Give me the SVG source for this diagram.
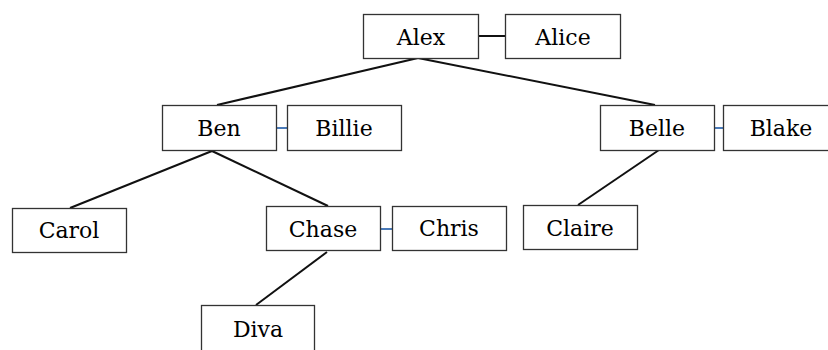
<svg xmlns="http://www.w3.org/2000/svg" width="828" height="350" viewBox="0 0 828 350">
<style>
.box{fill:#fff;stroke:#333;stroke-width:1.3}
.t{font-family:"DejaVu Serif","Liberation Serif",serif;font-size:22px;fill:#000;text-anchor:middle}
.e{stroke:#111;stroke-width:2;fill:none}
.s{stroke:#4a7ab8;stroke-width:2;fill:none}
</style>
<rect width="828" height="350" fill="#fff"/>
<g id="connectors">
<line class="e" x1="418" y1="58" x2="217" y2="105"/>
<line class="e" x1="418" y1="58" x2="655" y2="105"/>
<line class="e" x1="212" y1="151" x2="70" y2="208"/>
<line class="e" x1="212" y1="151" x2="328" y2="206"/>
<line class="e" x1="659" y1="150" x2="578" y2="205"/>
<line class="e" x1="327" y1="252" x2="256" y2="305"/>
<line class="e" x1="478" y1="36" x2="505" y2="36"/>
<line class="s" x1="276" y1="128" x2="287" y2="128"/>
<line class="s" x1="714" y1="128" x2="723" y2="128"/>
<line class="s" x1="380" y1="229" x2="392" y2="229"/>
</g>
<g id="alex"><rect class="box" x="363.5" y="14.5" width="115" height="44"/><text class="t" x="421" y="45">Alex</text></g>
<g id="alice"><rect class="box" x="505.5" y="14.5" width="115" height="44"/><text class="t" x="563" y="45">Alice</text></g>
<g id="ben"><rect class="box" x="162.5" y="105.5" width="114" height="45"/><text class="t" x="219" y="136">Ben</text></g>
<g id="billie"><rect class="box" x="287.5" y="105.5" width="114" height="45"/><text class="t" x="344" y="136">Billie</text></g>
<g id="belle"><rect class="box" x="600.5" y="105.5" width="114" height="45"/><text class="t" x="657" y="136">Belle</text></g>
<g id="blake"><rect class="box" x="723.5" y="105.5" width="115" height="45"/><text class="t" x="781" y="136">Blake</text></g>
<g id="carol"><rect class="box" x="12.5" y="208.5" width="114" height="44"/><text class="t" x="69" y="238">Carol</text></g>
<g id="chase"><rect class="box" x="266.5" y="206.5" width="114" height="44"/><text class="t" x="323" y="237">Chase</text></g>
<g id="chris"><rect class="box" x="392.5" y="206.5" width="114" height="44"/><text class="t" x="449" y="236">Chris</text></g>
<g id="claire"><rect class="box" x="523.5" y="205.5" width="114" height="44"/><text class="t" x="580" y="236">Claire</text></g>
<g id="diva"><rect class="box" x="201.5" y="305.5" width="113" height="50"/><text class="t" x="258" y="337">Diva</text></g>
</svg>
